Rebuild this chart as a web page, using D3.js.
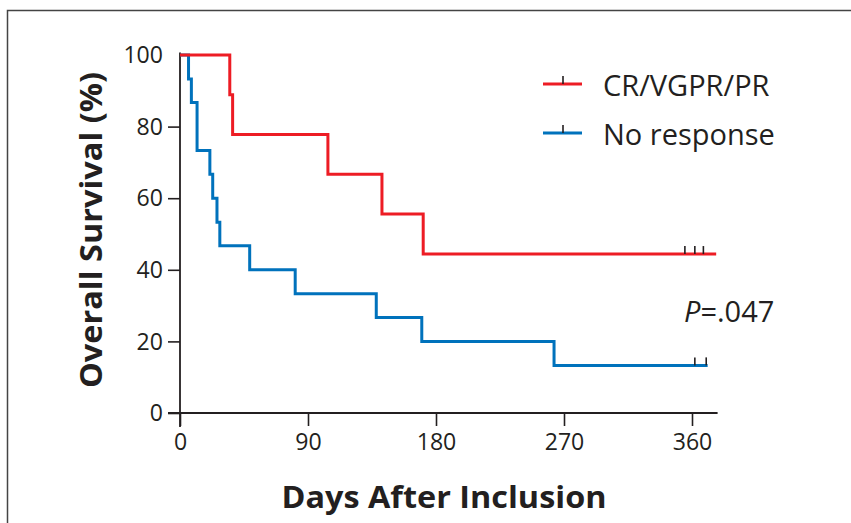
<!DOCTYPE html>
<html>
<head>
<meta charset="utf-8">
<script src="https://cdn.jsdelivr.net/npm/d3@7"></script>
<style>
  body { margin: 0; background: #fff; }
  svg { display: block; }
  text { font-family: "Open Sans", "Noto Sans", sans-serif; fill: #231f20; }
</style>
</head>
<body>
<div id="chart"></div>
<script>
// survival curves (days, % alive)
var redTimes = [0, 35, 37, 104, 142, 171, 377];
var redSurv = [100, 88.9, 77.8, 66.7, 55.6, 44.4, 44.4];
var redCensor = [355, 362, 368];

var blueTimes = [0, 6, 8, 12, 21, 23, 26, 28, 49, 81, 138, 170, 263, 371];
var blueSurv = [100, 93.3, 86.7, 73.3, 66.7, 60, 53.3, 46.7, 40, 33.3, 26.7, 20, 13.3, 13.3];
var blueCensor = [362, 370];

var xTicks = [0, 90, 180, 270, 360];
var yTicks = [0, 20, 40, 60, 80, 100];
var seriesNames = ["CR/VGPR/PR", "No response"];
var seriesColors = ["#ed1c24", "#0072bc"];

var W = 851, H = 523;
var ink = "#231f20";

var svg = d3.select("#chart").append("svg")
    .attr("width", W)
    .attr("height", H);

// page frame (top + left edge)
svg.append("path")
    .attr("d", "M7.5," + H + "V10.5H" + W)
    .attr("fill", "none")
    .attr("stroke", "#444")
    .attr("stroke-width", 1.5);

var x = d3.scaleLinear().domain([0, 378]).range([180, 717.6]);
var y = d3.scaleLinear().domain([0, 100]).range([413, 55]);

// y axis
var yAxis = svg.append("g")
    .attr("transform", "translate(" + x(0) + ",0)")
    .call(d3.axisLeft(y).tickValues(yTicks).tickSize(12).tickPadding(5));
yAxis.select(".domain").remove();
yAxis.selectAll(".tick line").attr("stroke", ink).attr("stroke-width", 1.6)
    .filter(function(d) { return d === 100; }).remove();
yAxis.selectAll(".tick text")
    .style("font-size", "24px")
    .attr("textLength", function(d) { return String(d).length * 13.2; })
    .attr("lengthAdjust", "spacingAndGlyphs")
    .attr("fill", ink);

// x axis
var xAxis = svg.append("g")
    .attr("transform", "translate(0," + y(0) + ")")
    .call(d3.axisBottom(x).tickValues(xTicks).tickSize(13).tickPadding(7));
xAxis.select(".domain").remove();
xAxis.selectAll(".tick line").attr("stroke", ink).attr("stroke-width", 1.6);
xAxis.selectAll(".tick text")
    .style("font-size", "24px")
    .attr("textLength", function(d) { return String(d).length * 13.2; })
    .attr("lengthAdjust", "spacingAndGlyphs")
    .attr("fill", ink);

// axis lines crossing at origin
svg.append("line")
    .attr("x1", x(0)).attr("x2", x(0))
    .attr("y1", 52.5).attr("y2", y(0) + 14)
    .attr("stroke", ink).attr("stroke-width", 1.8);
svg.append("line")
    .attr("x1", x(0) - 12).attr("x2", x(378))
    .attr("y1", y(0)).attr("y2", y(0))
    .attr("stroke", ink).attr("stroke-width", 1.8);

// axis titles
svg.append("text")
    .attr("x", 444).attr("y", 508)
    .attr("text-anchor", "middle")
    .attr("textLength", 325)
    .attr("lengthAdjust", "spacingAndGlyphs")
    .style("font-size", "31px")
    .style("font-weight", 700)
    .text("Days After Inclusion");

svg.append("text")
    .attr("transform", "translate(102,230) rotate(-90)")
    .attr("text-anchor", "middle")
    .attr("textLength", 316)
    .attr("lengthAdjust", "spacingAndGlyphs")
    .style("font-size", "30px")
    .style("font-weight", 700)
    .text("Overall Survival (%)");

// curves
var line = d3.line()
    .x(function(d) { return x(d[0]); })
    .y(function(d) { return y(d[1]); })
    .curve(d3.curveStepAfter);

function drawCurve(times, surv, censor, color) {
  var pts = times.map(function(t, i) { return [t, surv[i]]; });
  svg.append("path")
      .datum(pts)
      .attr("d", line)
      .attr("fill", "none")
      .attr("stroke", color)
      .attr("stroke-width", 3);
  var last = surv[surv.length - 1];
  svg.selectAll(null)
      .data(censor)
      .enter().append("line")
      .attr("x1", function(d) { return x(d); })
      .attr("x2", function(d) { return x(d); })
      .attr("y1", y(last))
      .attr("y2", y(last) - 8)
      .attr("stroke", ink)
      .attr("stroke-width", 1.6);
}

drawCurve(blueTimes, blueSurv, blueCensor, seriesColors[1]);
drawCurve(redTimes, redSurv, redCensor, seriesColors[0]);

// legend
var legend = svg.append("g");
seriesNames.forEach(function(name, i) {
  var ly = 84 + i * 49;
  legend.append("line")
      .attr("x1", 543).attr("x2", 582)
      .attr("y1", ly).attr("y2", ly)
      .attr("stroke", seriesColors[i])
      .attr("stroke-width", 3);
  legend.append("line")
      .attr("x1", 563).attr("x2", 563)
      .attr("y1", ly).attr("y2", ly - 8)
      .attr("stroke", ink)
      .attr("stroke-width", 1.6);
  legend.append("text")
      .attr("x", 603).attr("y", ly + 12)
      .style("font-size", "29px")
      .text(name);
});

// p value
var p = svg.append("text")
    .attr("x", 684).attr("y", 322)
    .style("font-size", "29px");
p.append("tspan").style("font-style", "italic").text("P");
p.append("tspan").text("=.047");
</script>
</body>
</html>
